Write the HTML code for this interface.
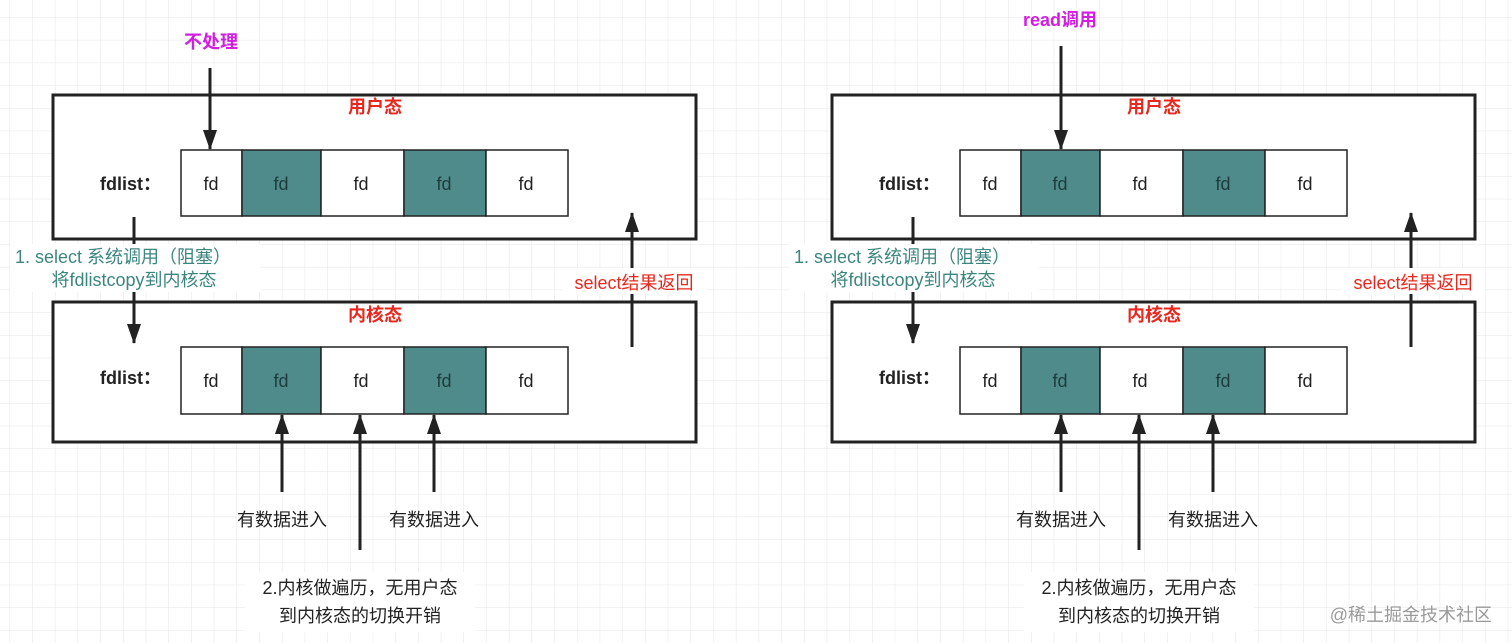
<!DOCTYPE html>
<html><head><meta charset="utf-8"><style>
html,body{margin:0;padding:0;background:#fff;}
svg{display:block;font-family:"Liberation Sans","Noto Sans CJK SC",sans-serif;}
</style></head><body>
<svg width="1512" height="643" viewBox="0 0 1512 643" xmlns="http://www.w3.org/2000/svg">
<defs>
<pattern id="g" x="10" y="-5" width="22.7" height="22.7" patternUnits="userSpaceOnUse">
<path d="M22.7 0V22.7M0 22.7H22.7" stroke="#e6e6e6" stroke-width="1" fill="none"/>
</pattern>
<marker id="a" markerWidth="20" markerHeight="14" refX="19" refY="7" orient="auto" markerUnits="userSpaceOnUse">
<path d="M0,0 L20,7 L0,14 Z" fill="#222"/>
</marker>
<g id="half">
<rect x="53" y="95" width="643" height="144" fill="#fff" stroke="#222" stroke-width="3"/>
<rect x="53" y="302" width="643" height="140" fill="#fff" stroke="#222" stroke-width="3"/>
<text x="375" y="113" text-anchor="middle" font-size="18" font-weight="bold" fill="#e8281e">用户态</text>
<text x="375" y="321" text-anchor="middle" font-size="18" font-weight="bold" fill="#e8281e">内核态</text>
<text x="100" y="190" font-size="18" font-weight="bold" fill="#222">fdlist：</text>
<text x="100" y="384" font-size="18" font-weight="bold" fill="#222">fdlist：</text>
<g stroke="#222" stroke-width="1.5">
<rect x="181" y="150" width="61" height="66" fill="#fff"/>
<rect x="242" y="150" width="79" height="66" fill="#4f8b8b"/>
<rect x="321" y="150" width="83" height="66" fill="#fff"/>
<rect x="404" y="150" width="82" height="66" fill="#4f8b8b"/>
<rect x="486" y="150" width="82" height="66" fill="#fff"/>
<rect x="181" y="347" width="61" height="67" fill="#fff"/>
<rect x="242" y="347" width="79" height="67" fill="#4f8b8b"/>
<rect x="321" y="347" width="83" height="67" fill="#fff"/>
<rect x="404" y="347" width="82" height="67" fill="#4f8b8b"/>
<rect x="486" y="347" width="82" height="67" fill="#fff"/>
</g>
<g font-size="18" text-anchor="middle" fill="#222">
<text x="211" y="190">fd</text><text x="281" y="190" fill="#1e3c3c">fd</text><text x="361" y="190">fd</text><text x="444" y="190" fill="#1e3c3c">fd</text><text x="526" y="190">fd</text>
<text x="211" y="387">fd</text><text x="281" y="387" fill="#1e3c3c">fd</text><text x="361" y="387">fd</text><text x="444" y="387" fill="#1e3c3c">fd</text><text x="526" y="387">fd</text>
</g>
<g stroke="#222" stroke-width="3" fill="none">
<line x1="134" y1="217" x2="134" y2="343" marker-end="url(#a)"/>
<line x1="632" y1="347" x2="632" y2="213" marker-end="url(#a)"/>
<line x1="282" y1="492" x2="282" y2="415" marker-end="url(#a)"/>
<line x1="360" y1="550" x2="360" y2="415" marker-end="url(#a)"/>
<line x1="434" y1="492" x2="434" y2="415" marker-end="url(#a)"/>
</g>
<rect x="10" y="244" width="250" height="48" fill="#fff"/>
<text x="15" y="263" font-size="18" fill="#3c8680">1. select 系统调用（阻塞）</text>
<text x="134" y="286" text-anchor="middle" font-size="18" fill="#3c8680">将fdlistcopy到内核态</text>
<rect x="562" y="268" width="144" height="26" fill="#fff"/>
<text x="634" y="289" text-anchor="middle" font-size="18" fill="#e8281e">select结果返回</text>
<g font-size="18" text-anchor="middle" fill="#222">
<text x="282" y="526">有数据进入</text>
<text x="434" y="526">有数据进入</text>
<rect x="245" y="572" width="230" height="60" fill="#fff" stroke="none"/>
<text x="360" y="594">2.内核做遍历，无用户态</text>
<text x="360" y="622">到内核态的切换开销</text>
</g>
</g>
</defs>
<rect width="1512" height="643" fill="url(#g)"/>
<use href="#half"/>
<use href="#half" transform="translate(779,0)"/>
<g stroke="#222" stroke-width="3">
<line x1="210" y1="68" x2="210" y2="149" marker-end="url(#a)"/>
<line x1="1061" y1="46" x2="1061" y2="149" marker-end="url(#a)"/>
</g>
<text x="211" y="48" text-anchor="middle" font-size="18" font-weight="bold" fill="#d21ee0">不处理</text>
<text x="1060" y="26" text-anchor="middle" font-size="18" font-weight="bold" fill="#d21ee0">read调用</text>
<text x="1492" y="621" text-anchor="end" font-size="18" fill="#9a9a9a">@稀土掘金技术社区</text>
</svg>
</body></html>
